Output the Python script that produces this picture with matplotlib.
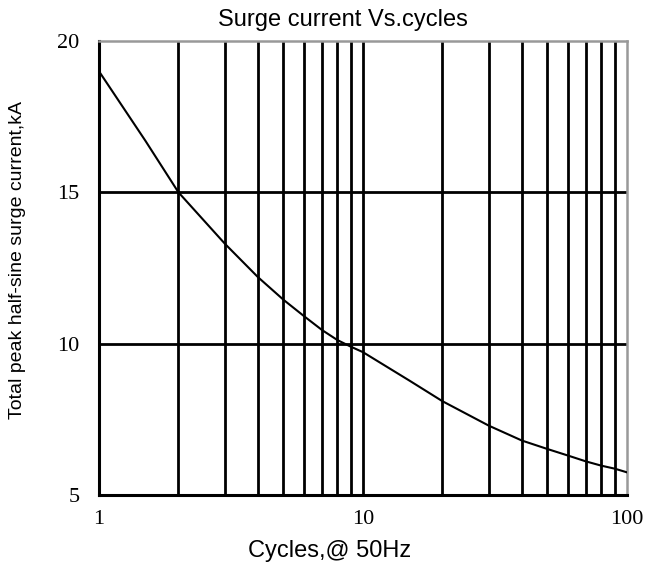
import matplotlib.pyplot as plt
from matplotlib.ticker import FixedLocator, NullFormatter

# surge current rating read against number of 50 Hz cycles
cycles = [1, 1.5, 2, 3, 4, 5, 6, 7, 8, 9, 10, 15, 20, 30, 40, 50, 60, 70, 80, 90, 100]
current_ka = [19.0, 16.7, 15.0, 13.3, 12.2, 11.45, 10.9, 10.45, 10.12, 9.9, 9.72,
              8.78, 8.1, 7.29, 6.8, 6.52, 6.3, 6.11, 5.97, 5.87, 5.75]

x_ticks = [1, 10, 100]
y_ticks = [5, 10, 15, 20]
x_grid = [2, 3, 4, 5, 6, 7, 8, 9, 10, 20, 30, 40, 50, 60, 70, 80, 90]
y_grid = [10, 15]

fig = plt.figure(figsize=(6.49, 5.69), dpi=100)
ax = fig.add_axes([0.1525, 0.13, 0.8135, 0.798])

ax.set_xscale("log")
ax.set_xlim(1, 100)
ax.set_ylim(5, 20)

for gx in x_grid:
    ax.axvline(gx, color="black", lw=2.0, zorder=1)
for gy in y_grid:
    ax.axhline(gy, color="black", lw=2.0, zorder=1)

ax.plot(cycles, current_ka, color="black", lw=1.5, zorder=3)

ax.xaxis.set_major_locator(FixedLocator(x_ticks))
ax.xaxis.set_minor_locator(FixedLocator([]))
ax.xaxis.set_minor_formatter(NullFormatter())
ax.set_xticks(x_ticks)
ax.set_xticklabels([str(t) for t in x_ticks])
ax.set_yticks(y_ticks)
ax.set_yticklabels([str(t) for t in y_ticks])
ax.tick_params(axis="both", length=0, labelsize=16)
ax.tick_params(axis="x", pad=11)
ax.tick_params(axis="y", pad=14)
for lbl in ax.get_xticklabels() + ax.get_yticklabels():
    lbl.set_family("Liberation Serif")

ax.spines["left"].set_color("black")
ax.spines["bottom"].set_color("black")
ax.spines["left"].set_linewidth(2.2)
ax.spines["bottom"].set_linewidth(2.2)
ax.spines["top"].set_color("#999999")
ax.spines["right"].set_color("#999999")
ax.spines["top"].set_linewidth(1.8)
ax.spines["right"].set_linewidth(1.8)

fig.text(0.529, 0.954, "Surge current Vs.cycles", ha="center", va="baseline",
         fontsize=17, family="Liberation Sans")
fig.text(0.508, 0.021, "Cycles,@ 50Hz", ha="center", va="baseline",
         fontsize=17, family="Liberation Sans")
fig.text(0.027, 0.543, "Total peak half-sine surge current,kA", ha="center",
         va="center", rotation=90, fontsize=14, family="Liberation Sans")

fig.savefig("out.png", dpi=100)
